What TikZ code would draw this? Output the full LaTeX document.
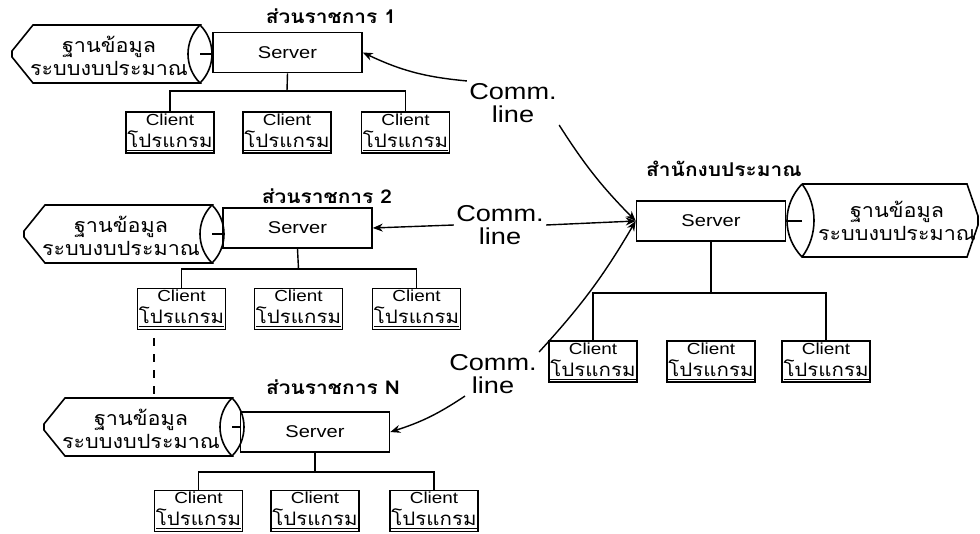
\documentclass[tikz,border=0pt]{standalone}
\usepackage{fontspec}
\setmainfont{Liberation Sans}[FakeStretch=1.18]
\newfontfamily\thaifont[Script=Thai,FakeStretch=1.1]{Loma}
\usetikzlibrary{arrows,arrows.meta,positioning}
\tikzstyle{server}=[draw, line width=0.8pt, minimum width=74.5pt,
                    minimum height=20pt, inner sep=0pt,
                    font=\fontsize{8.5}{10}\selectfont]
\tikzstyle{client}=[draw, line width=0.8pt, minimum width=44pt,
                    minimum height=20.5pt, inner sep=0pt, align=center,
                    font=\fontsize{8}{11}\selectfont]
\tikzstyle{title} =[font=\thaifont\bfseries\fontsize{9.5}{10}\selectfont]
\tikzstyle{dbtext}=[align=center, inner sep=0pt,
                    font=\thaifont\fontsize{9.8}{11.5}\selectfont]
\tikzstyle{comm}  =[align=center, inner sep=1pt,
                    font=\fontsize{11.5}{11.5}\selectfont]
\tikzstyle{link}  =[line width=0.7pt]
\tikzstyle{commarrow}=[-{Stealth[length=5pt,width=4pt]}, line width=0.7pt]

\begin{document}
\begin{tikzpicture}[x=0.5pt, y=-0.5pt]
    \useasboundingbox (0,0) rectangle (980,534);

    % servers and titles
    \node[server] (s1) at (287.5,52.5) {Server};
    \node[server] (s2) at (297.5,228) {Server};
    \node[server] (sn) at (315,432) {Server};
    \node[server] (sm) at (711,221) {Server};
    \node[title] (t1) at (331,16) {ส่วนราชการ 1};
    \node[title] (t2) at (327,196) {ส่วนราชการ 2};
    \node[title] (tn) at (333,387) {ส่วนราชการ N};
    \node[title] (tm) at (724,169) {สำนักงบประมาณ};

    % clients
    \foreach \s/\y/\b/\xa/\xb/\xc in {1/132.5/91/170/287/405.5,
            2/309/269/181.5/298.5/416.5, n/511/472/198.5/315/434,
            m/361.5/293/593/711/826}{
        \foreach \i/\x in {1/\xa,2/\xb,3/\xc}
            \node[client] (c\s\i) at (\x,\y)
                {Client\\\underline{\thaifont\fontsize{9.3}{11}\selectfont โปรแกรม}};
        \draw[link] (c\s1.north) |- (c\s3.north |- 0,\b) -- (c\s3.north);
        \draw[link] (c\s2.north |- 0,\b) -- (s\s.south);
    }

    % databases
    \foreach \s/\L/\T in {1/12/25, 2/24/205, n/44/398}{
        \draw[line width=0.8pt] ({\L+21},\T) -- ({\L+188},\T)
            .. controls ({\L+172},{\T+16}) and ({\L+172},{\T+42}) .. ({\L+188},{\T+58})
            -- ({\L+21},{\T+58}) -- (\L,{\T+32}) -- (\L,{\T+26}) -- cycle;
        \draw[line width=0.8pt] ({\L+188},\T)
            .. controls ({\L+204},{\T+16}) and ({\L+204},{\T+42}) .. ({\L+188},{\T+58});
        \node[dbtext] (db\s) at ({\L+97},{\T+31}) {ฐานข้อมูล\\ระบบงบประมาณ};
        \coordinate (lens\s) at ({\L+188},{\T+29});
        \draw[link] (lens\s) -- (lens\s -| s\s.west);
    }
    \draw[line width=0.8pt] (802,184) -- (967,184) -- (978,216) -- (978,225)
        -- (967,257) -- (802,257) .. controls (782,236) and (782,205) .. (802,184);
    \draw[line width=0.8pt] (802,184) .. controls (818,205) and (818,236) .. (802,257);
    \node[dbtext] (dbm) at (897,221) {ฐานข้อมูล\\ระบบงบประมาณ};
    \coordinate (lensm) at (802,221);
    \draw[link] (lensm) -- (sm.east);

    % dashed link between sites
    \coordinate (dashtop) at (154,338);
    \coordinate (dashbot) at (154,398);
    \draw[link, dash pattern=on 4pt off 4pt] (dashtop) -- (dashbot);

    % communication lines
    \node[comm] (cl1) at (513,103) {Comm.\\line};
    \node[comm] (cl2) at (500,225) {Comm.\\line};
    \node[comm] (cl3) at (493,374) {Comm.\\line};
    \draw[commarrow] (cl1.north west) to[bend left=10] (s1.east);
    \draw[commarrow] (cl1.south east) to[bend right=6] (sm.west);
    \draw[commarrow] (cl2.west) -- (s2.east);
    \draw[commarrow] (cl2.east) -- (sm.west);
    \draw[commarrow] (cl3.north east) to[bend right=6] (sm.west);
    \draw[commarrow] ([xshift=-14pt]cl3.south) to[bend left=8] (sn.east);
\end{tikzpicture}
\end{document}
